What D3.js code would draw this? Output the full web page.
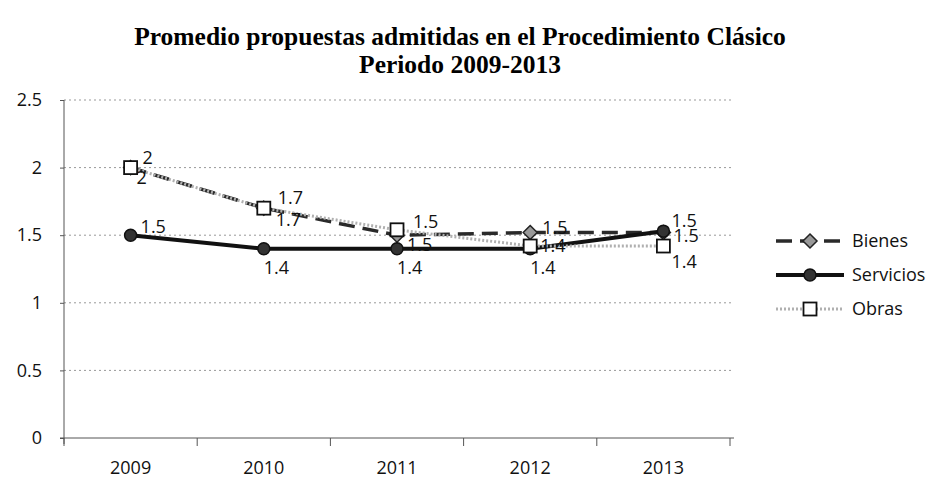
<!DOCTYPE html>
<html>
<head>
<meta charset="utf-8">
<script src="https://cdn.jsdelivr.net/npm/d3@7"></script>
<style>
  body { margin: 0; background: #fff; }
  svg { display: block; }
</style>
</head>
<body>
<div id="container"></div>
<script>
"use strict";

const width = 936;
const height = 483;

const years = ["2009", "2010", "2011", "2012", "2013"];
const bienes = [2, 1.7, 1.5, 1.52, 1.52];
const servicios = [1.5, 1.4, 1.4, 1.4, 1.53];
const obras = [2, 1.7, 1.54, 1.42, 1.42];
const yTicks = [0, 0.5, 1, 1.5, 2, 2.5];

const titleLines = [
  "Promedio propuestas admitidas en el Procedimiento Clásico",
  "Periodo 2009-2013",
];

const series = [
  { name: "Bienes", values: bienes, stroke: "#2a2a2a", width: 3.5, dash: "16,8", marker: "diamond", fill: "#999", labelDx: [6, 12, 10, 12, 10], labelDy: [16, 18, 16, 2, 10] },
  { name: "Servicios", values: servicios, stroke: "#111", width: 4, dash: null, marker: "circle", fill: "#333", labelDx: [10, 0, 0, 0, 8], labelDy: [-2, 25, 25, 25, -4] },
  { name: "Obras", values: obras, stroke: "#b0b0b0", width: 3, dash: "2,2", marker: "square", fill: "#fff", labelDx: [12, 14, 16, 10, 8], labelDy: [-4, -4, -2, 6, 22] },
];

const margin = { left: 64, right: 730, top: 100, bottom: 438 };

const xScale = d3.scaleBand().domain(years).range([margin.left, margin.right]);
const yScale = d3.scaleLinear().domain([0, 2.5]).range([margin.bottom, margin.top]);
const fmt = d3.format(".1~f");
const labelFont = "'Open Sans', sans-serif";

const svg = d3.select("#container").append("svg")
  .attr("width", width)
  .attr("height", height);

// title
svg.append("g").selectAll("text")
  .data(titleLines)
  .enter()
  .append("text")
  .attr("x", 460)
  .attr("y", (d, i) => 45 + i * 28)
  .attr("text-anchor", "middle")
  .style("font-family", "'Liberation Serif', serif")
  .style("font-weight", "bold")
  .style("font-size", "25.5px")
  .text((d) => d);

// gridlines
svg.append("g").selectAll("line")
  .data(yTicks.filter((t) => t > 0))
  .enter()
  .append("line")
  .attr("x1", margin.left)
  .attr("x2", margin.right + 2)
  .attr("y1", (d) => yScale(d))
  .attr("y2", (d) => yScale(d))
  .attr("stroke", "#999")
  .attr("stroke-width", 1)
  .attr("stroke-dasharray", "2,3");

const yAxis = d3.axisLeft(yScale).tickValues(yTicks).tickSize(4).tickFormat((d) => d);
svg.append("g")
  .attr("transform", `translate(${margin.left}, 0)`)
  .call(yAxis)
  .call((g) => g.selectAll("text").attr("x", -22).style("font-family", labelFont).style("font-size", "18px").attr("fill", "#111"))
  .call((g) => g.select(".domain").attr("stroke", "#555").attr("d", `M0,${margin.top}V${margin.bottom + 6}`))
  .call((g) => g.selectAll(".tick line").attr("stroke", "#555"));

const xAxis = d3.axisBottom(xScale).tickSize(0).tickPadding(23);
const xg = svg.append("g")
  .attr("transform", `translate(0, ${margin.bottom})`)
  .call(xAxis);
xg.select(".domain").attr("stroke", "#555").attr("d", `M${margin.left - 4},0H${margin.right + 4}`);
xg.selectAll("text").style("font-family", labelFont).style("font-size", "18px").attr("fill", "#111");
xg.selectAll(".bound")
  .data(d3.range(years.length + 1))
  .enter()
  .append("line")
  .attr("x1", (i) => margin.left + i * xScale.step())
  .attr("x2", (i) => margin.left + i * xScale.step())
  .attr("y1", 0)
  .attr("y2", 8)
  .attr("stroke", "#555");

const cx = (d, i) => xScale(years[i]) + xScale.bandwidth() / 2;

const drawMarker = (sel, s) => {
  if (s.marker === "square") {
    sel.append("rect").attr("x", -6.5).attr("y", -6.5).attr("width", 13).attr("height", 13)
      .attr("fill", s.fill).attr("stroke", "#111").attr("stroke-width", 1.8);
  } else if (s.marker === "circle") {
    sel.append("circle").attr("r", 6).attr("fill", s.fill).attr("stroke", "#111").attr("stroke-width", 1.5);
  } else {
    sel.append("path").attr("d", "M0,-7L7,0L0,7L-7,0Z").attr("fill", s.fill).attr("stroke", "#222").attr("stroke-width", 1.5);
  }
};

const line = d3.line().x(cx).y((d) => yScale(d));

series.forEach((s) => {
  svg.append("path")
    .datum(s.values)
    .attr("d", line)
    .attr("fill", "none")
    .attr("stroke", s.stroke)
    .attr("stroke-width", s.width)
    .attr("stroke-dasharray", s.dash);

  svg.append("g").selectAll("g")
    .data(s.values)
    .enter()
    .append("g")
    .attr("transform", (d, i) => `translate(${cx(d, i)}, ${yScale(d)})`)
    .each(function () { drawMarker(d3.select(this), s); });
});

series.forEach((s) => {
  svg.append("g").selectAll("text")
    .data(s.values)
    .enter()
    .append("text")
    .attr("x", (d, i) => cx(d, i) + s.labelDx[i])
    .attr("y", (d, i) => yScale(d) + s.labelDy[i])
    .style("font-family", labelFont)
    .style("font-size", "18px")
    .attr("fill", "#111")
    .text((d) => fmt(d));
});

// legend
const legend = svg.append("g").attr("transform", "translate(776, 241)");
series.forEach((s, i) => {
  const row = legend.append("g").attr("transform", `translate(0, ${i * 34})`);
  row.append("line")
    .attr("x1", 0).attr("x2", 68)
    .attr("stroke", s.stroke)
    .attr("stroke-width", s.width)
    .attr("stroke-dasharray", s.dash);
  drawMarker(row.append("g").attr("transform", "translate(34, 0)"), s);
  row.append("text")
    .attr("x", 76)
    .attr("y", 6)
    .style("font-family", labelFont)
    .style("font-size", "18px")
    .attr("fill", "#111")
    .text(s.name);
});
</script>
</body>
</html>
